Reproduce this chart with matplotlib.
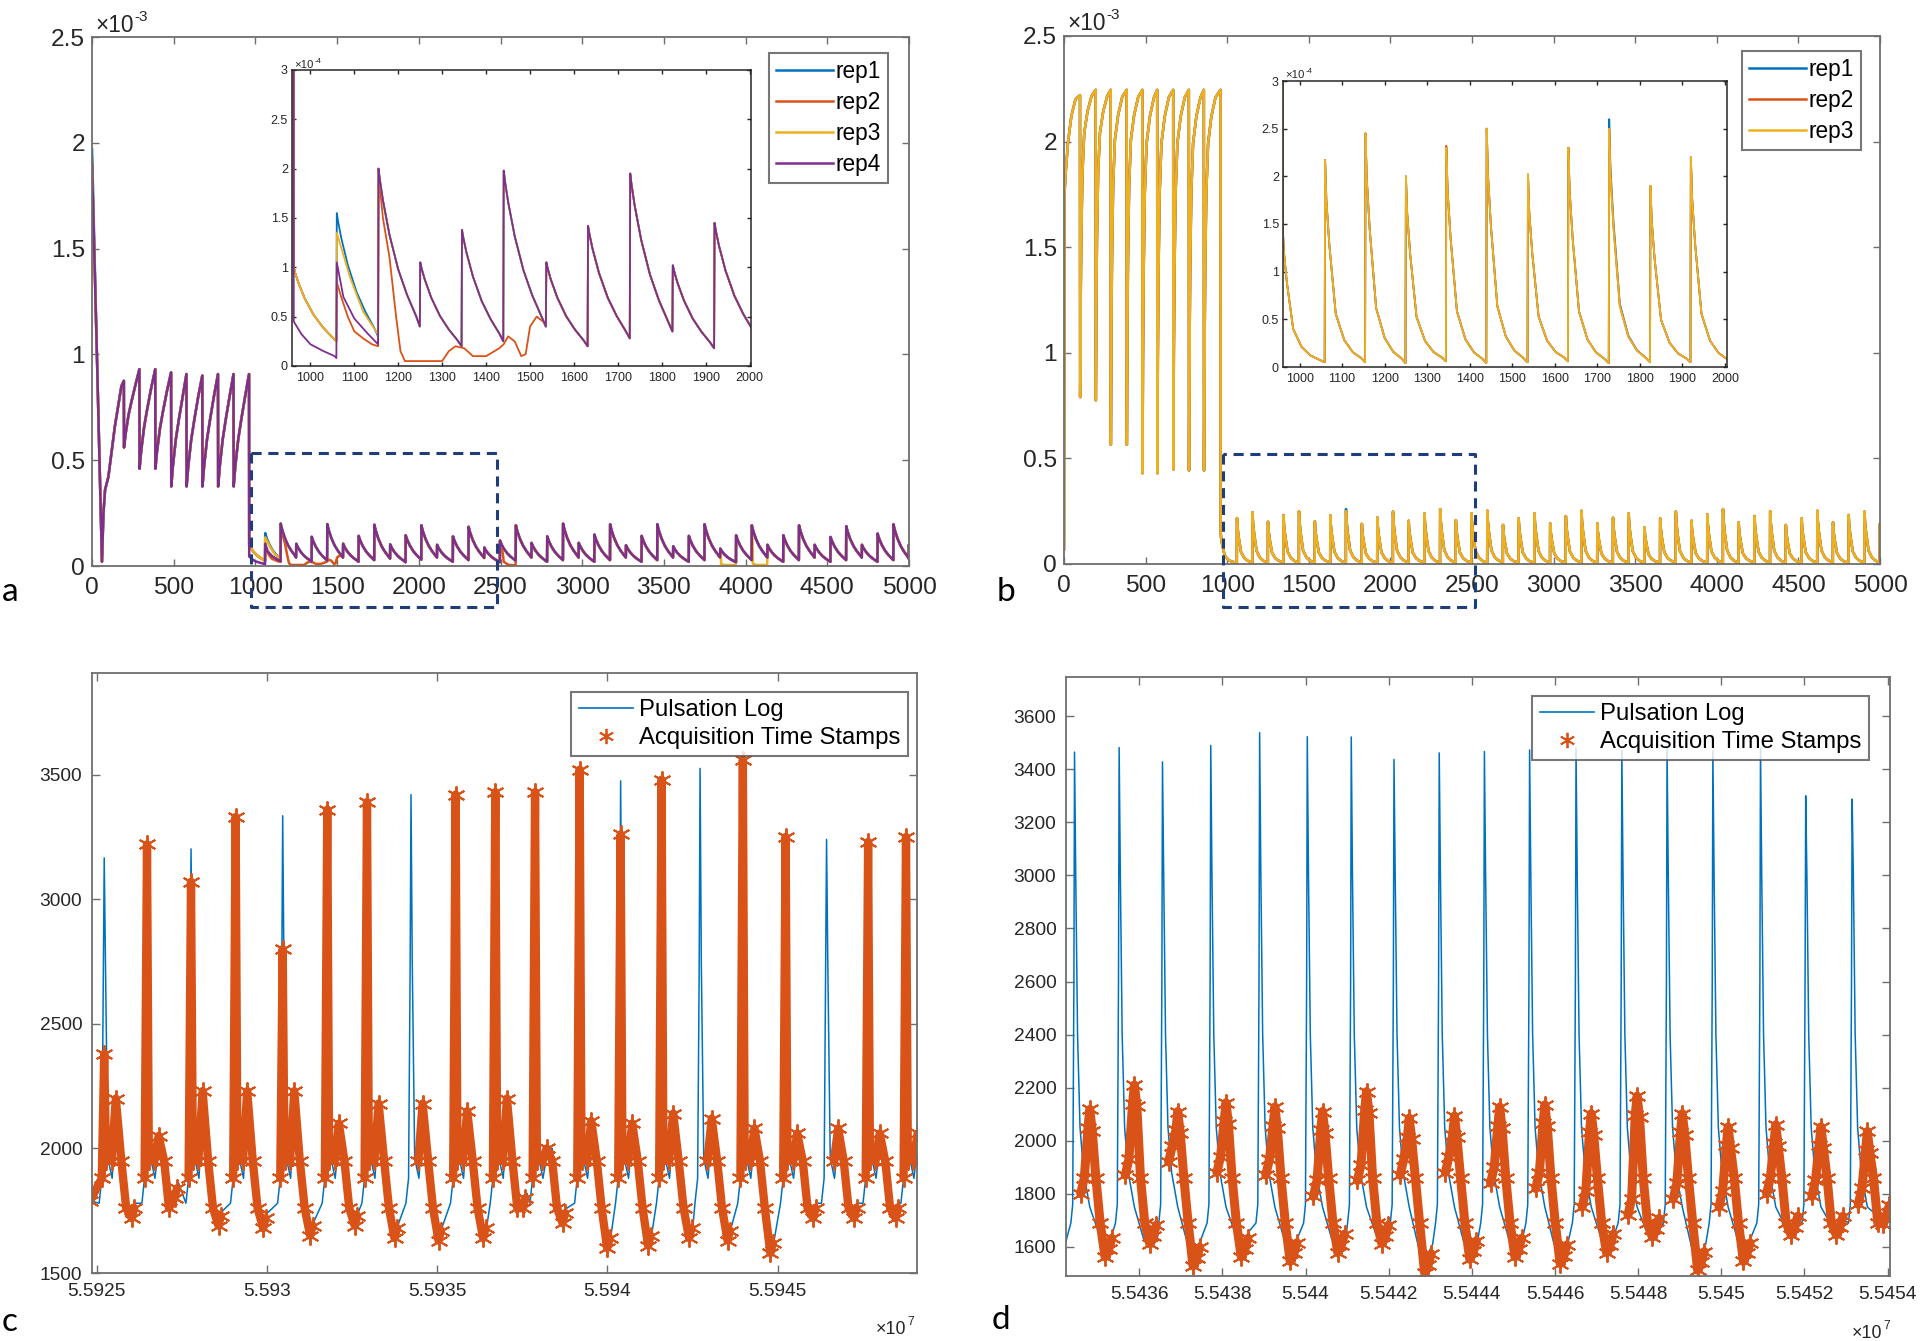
import numpy as np
import matplotlib
matplotlib.use("Agg")
import matplotlib.pyplot as plt
from matplotlib import font_manager
from matplotlib.lines import Line2D

_names = {f.name for f in font_manager.fontManager.ttflist}
NARROW = "Liberation Sans Narrow" in _names
plt.rcParams["font.family"] = ["Liberation Sans Narrow", "Liberation Sans", "DejaVu Sans"]
# Liberation Sans (regular width) needs smaller sizes to take the same room
FS = 1.0 if NARROW else 0.86

W, H = 1920, 1341
SCALE = 1e-4            # panel a / b values below are in units of 1e-4

C_BLUE, C_ORANGE, C_YELLOW, C_PURPLE = "#0072BD", "#D95319", "#EDB120", "#7E2F8E"
C_BOX = "#1F3D7A"
C_AX = "#6E6E6E"
C_TXT = "#262626"

# ── panels a / b : shared spike positions (samples) ──────────────────────────
spike_x = [1060, 1155, 1250, 1345, 1440, 1537, 1632, 1728, 1825, 1920,
           2016, 2112, 2209, 2305, 2401, 2497, 2594, 2690, 2786, 2883,
           2979, 3075, 3171, 3268, 3364, 3460, 3557, 3653, 3749, 3845,
           3942, 4038, 4134, 4231, 4327, 4423, 4520, 4616, 4712, 4808,
           4905, 4999]

# ── panel a ──────────────────────────────────────────────────────────────────
a_load_x = [0, 30, 61, 70, 80, 100, 140, 180]
a_load_y = [19.0, 10.0, 0.2, 2.5, 3.6, 4.2, 6.6, 8.5]
a_cyc_x = [195, 290, 387, 484, 578, 675, 771, 866, 961]
a_cyc_peak = [8.75, 9.3, 9.3, 9.15, 9.07, 9.0, 9.07, 9.07, 9.07]
a_cyc_drop = [5.6, 4.6, 4.6, 3.76, 3.76, 3.76, 3.76, 3.76, 1.0]
a_rise_dx = [0, 10, 28, 47, 70]
a_rise_g = [0, 0.18, 0.42, 0.6, 0.8]
a_first_trough = 0.25
a_spike_peak = [1.55, 2.0, 1.05, 1.38, 1.98, 1.05, 1.42, 1.95, 1.02, 1.45,
                1.92, 1.0, 1.4, 1.85, 0.87, 1.2, 1.92, 1.09, 1.4, 2.0,
                1.09, 1.48, 1.97, 0.98, 1.42, 1.97, 0.93, 1.42, 1.97, 0.82,
                1.45, 1.92, 1.0, 1.45, 1.92, 1.0, 1.37, 1.88, 1.0, 1.53,
                1.97, 1.0]
a_spike_trough = [0.30, 0.40, 0.20, 0.25, 0.40, 0.20, 0.28, 0.35, 0.18, 0.30,
                  0.40, 0.20, 0.28, 0.38, 0.18, 0.25, 0.40, 0.20, 0.28, 0.40,
                  0.20, 0.28, 0.40, 0.20, 0.28, 0.40, 0.20, 0.28, 0.40, 0.18,
                  0.28, 0.40, 0.20, 0.28, 0.40, 0.20, 0.28, 0.40, 0.20, 0.28,
                  0.35, 0.30]
a_decay_dx = [0, 3, 10, 25, 45, 65, 85]
a_decay_g = [1, 0.93, 0.8, 0.58, 0.36, 0.2, 0.07]

# replicate-specific stretches (a)
a_rep1_fix = [([0, 2], [19.7, 19.2])]
a_rep2_fix = [
    ([1060, 1070, 1085, 1100, 1120, 1140, 1154],
     [0.85, 0.7, 0.5, 0.35, 0.28, 0.22, 0.2]),
    ([1156, 1165, 1180, 1195, 1205, 1215, 1300, 1315, 1330, 1350, 1370, 1400,
      1430, 1440, 1450, 1465, 1480, 1490, 1500, 1515, 1530, 1536],
     [1.9, 1.5, 1.1, 0.5, 0.15, 0.05, 0.05, 0.15, 0.2, 0.18, 0.1, 0.1,
      0.18, 0.22, 0.3, 0.25, 0.1, 0.12, 0.4, 0.5, 0.45, 0.4]),
    ([2520, 2550, 2592], [0.2, 0.05, 0.03]),
]
a_rep3_fix = [
    ([1060, 1070, 1090, 1120, 1154], [1.35, 1.2, 0.9, 0.55, 0.32]),
    ([3850, 3870, 3940], [0.1, 0.05, 0.05]),
    ([4045, 4070, 4132], [0.1, 0.05, 0.05]),
]
a_rep4_fix = [
    ([962, 980, 1000, 1030, 1055, 1059, 1060, 1075, 1100, 1130, 1154],
     [0.45, 0.32, 0.22, 0.15, 0.1, 0.08, 1.05, 0.7, 0.48, 0.33, 0.22]),
]

# ── panel b ──────────────────────────────────────────────────────────────────
b_load_x = [0, 3, 10, 25, 45, 70]
b_load_y = [0.7, 17.5, 18.5, 20.0, 21.2, 22.0]
b_cyc_x = [98, 194, 286, 384, 480, 571, 669, 765, 857, 959]
b_cyc_peak = [22.2, 22.45, 22.45, 22.45, 22.45, 22.45, 22.45, 22.45, 22.45, 22.45]
b_cyc_drop = [7.9, 7.75, 5.64, 5.64, 4.3, 4.3, 4.48, 4.43, 4.43, 1.5]
b_rise_dx = [0, 3, 7, 14, 25, 45, 70]
b_rise_g = [0, 0.3, 0.52, 0.73, 0.86, 0.93, 0.98]
b_first_trough = 0.05
b_spike_peak = [2.17, 2.45, 2.0, 2.3, 2.5, 2.02, 2.3, 2.5, 1.9, 2.2,
                2.48, 2.05, 2.4, 2.6, 2.08, 2.4, 2.52, 1.85, 2.16, 2.4,
                1.92, 2.27, 2.52, 1.92, 2.19, 2.4, 1.73, 2.16, 2.48, 2.05,
                2.35, 2.6, 1.97, 2.27, 2.5, 1.85, 2.16, 2.52, 1.97, 2.32,
                2.48, 1.9]
b_spike_trough = [0.05, 0.04, 0.06, 0.04, 0.05, 0.06, 0.04, 0.05, 0.05, 0.04,
                  0.05, 0.06, 0.04, 0.05, 0.05, 0.04, 0.06, 0.05, 0.04, 0.05,
                  0.05, 0.06, 0.04, 0.05, 0.05, 0.04, 0.05, 0.06, 0.04, 0.05,
                  0.05, 0.04, 0.06, 0.05, 0.04, 0.05, 0.05, 0.06, 0.04, 0.05,
                  0.05, 0.05]
b_decay_dx = [0, 3, 10, 25, 45, 65, 85]
b_decay_g = [1, 0.8, 0.58, 0.24, 0.11, 0.05, 0.02]
b_rep1_peak_fix = {7: 2.6}
b_rep2_peak_fix = {3: 2.32}

# ── panel c : pulsation log vs. acquisition stamps ───────────────────────────
c_t = [55925215, 55926472, 55927765, 55929075, 55930458, 55931768, 55932935,
       55934228, 55935538, 55936705, 55937872, 55939183, 55940386, 55941589,
       55942720, 55943977, 55945233, 55946436, 55947657, 55948770]
c_blue_peak = [3166, 3200, 3202, 3300, 3335, 3350, 3380, 3420, 3400, 3420,
               3420, 3500, 3475, 3470, 3525, 3540, 3240, 3240, 3220, 3240]
c_bump = [2200, 2050, 2230, 2230, 2230, 2100, 2180, 2180, 2150, 2200,
          2000, 2110, 2100, 2140, 2120, 2080, 2060, 2080, 2060, 2060]
c_valley = [1720, 1800, 1690, 1680, 1650, 1690, 1640, 1630, 1640, 1760,
            1700, 1600, 1610, 1640, 1630, 1580, 1720, 1720, 1720, 1750]
c_orange_top = [2380, 3220, 3070, 3330, 2800, 3360, 3390, np.nan, 3420, 3430,
                3430, 3520, 3260, 3480, np.nan, 3560, 3250, np.nan, 3230, 3250]

# ── panel d ──────────────────────────────────────────────────────────────────
d_t = [55434442, 55435515, 55436558, 55437719, 55438895, 55440041, 55441099,
       55442127, 55443215, 55444302, 55445389, 55446506, 55447608, 55448696,
       55449798, 55450944, 55452031, 55453148, 55454096]
d_blue_peak = [3465, 3482, 3428, 3490, 3538, 3523, 3522, 3437, 3462, 3467,
               3473, 3480, 3470, 3480, 3470, 3480, 3300, 3288, 3480]
d_blue_valley = [1620, 1600, 1590, 1620, 1600, 1600, 1620, 1570, 1590, 1600,
                 1580, 1610, 1630, 1570, 1600, 1650, 1660, 1690, 1690]
d_orange_start = [1800, 1870, 1920, 1880, 1870, 1790, 1850, 1870, 1880, 1840,
                  1820, 1750, 1720, 1780, 1750, 1800, 1790, 1760]
d_orange_top = [2118, 2210, 2110, 2143, 2127, 2110, 2185, 2085, 2093, 2127,
                2135, 2102, 2168, 2102, 2052, 2060, 2052, 2035]
d_orange_bottom = [1562, 1612, 1528, 1562, 1545, 1578, 1612, 1503, 1553, 1562,
                   1537, 1578, 1637, 1512, 1545, 1645, 1645, 1687]


# ── helpers ──────────────────────────────────────────────────────────────────

def spike_series(load_x, load_y, cyc_x, cyc_peak, cyc_drop, rise_dx, rise_g,
                 first_trough, sx, speak, strough, ddx, dg):
    X, Y = list(load_x), list(load_y)
    n = len(cyc_x)
    for k in range(n):
        X.append(cyc_x[k]); Y.append(cyc_peak[k])
        if k + 1 < n:
            lo = cyc_drop[k]
            for d, g in zip(rise_dx, rise_g):
                X.append(cyc_x[k] + 1 + d); Y.append(lo + g * (cyc_peak[k + 1] - lo))
    # unloading decay down to the first spike
    x0, prev = cyc_x[-1] + 1, first_trough
    for d, g in zip(ddx, dg):
        if x0 + d < sx[0] - 1:
            X.append(x0 + d); Y.append(prev + g * (cyc_drop[-1] - prev))
    for k in range(len(sx)):
        X.append(sx[k] - 1); Y.append(prev)
        nxt = sx[k + 1] if k + 1 < len(sx) else sx[k] + 100
        for d, g in zip(ddx, dg):
            if sx[k] + d < nxt - 1:
                X.append(sx[k] + d); Y.append(strough[k] + g * (speak[k] - strough[k]))
        prev = strough[k]
    return np.array(X, float), np.array(Y, float)


def patch(X, Y, fixes):
    for fx, fy in fixes:
        keep = (X < min(fx)) | (X > max(fx))
        X = np.concatenate([X[keep], fx])
        Y = np.concatenate([Y[keep], fy])
        o = np.argsort(X, kind="stable")
        X, Y = X[o], Y[o]
    return X, Y


def px_axes(fig, l, t, r, b):
    return fig.add_axes([l / W, 1 - b / H, (r - l) / W, (b - t) / H])


def matlab_axes(ax, color, tick_len, size, pad_x, pad_y, lw=1.3):
    for s in ax.spines.values():
        s.set_color(color)
        s.set_linewidth(lw)
    ax.tick_params(axis="both", direction="in", top=True, right=True,
                   length=tick_len, width=1.0, color=color,
                   labelsize=size, labelcolor=C_TXT)
    ax.tick_params(axis="x", pad=pad_x)
    ax.tick_params(axis="y", pad=pad_y)


def exponent(fig, x, y, size, exp, dy, align="left"):
    """MATLAB style 'x10^n' label; (x, y) is the left (or right) baseline point in px."""
    r = fig.canvas.get_renderer()
    base = fig.text(x / W, 1 - y / H, "\u00d710", fontsize=size, color=C_TXT,
                    va="baseline", ha="left")
    sup = fig.text(0, 1 - (y - dy) / H, exp, fontsize=size * 0.68, color=C_TXT,
                   va="baseline", ha="left")
    bw = base.get_window_extent(r).width
    sw = sup.get_window_extent(r).width
    x0 = x - bw - sw - 1 if align == "right" else x
    base.set_x(x0 / W)
    sup.set_x((x0 + bw + 1) / W)


# ── build series ─────────────────────────────────────────────────────────────
ax_, ay_ = spike_series(a_load_x, a_load_y, a_cyc_x, a_cyc_peak, a_cyc_drop,
                        a_rise_dx, a_rise_g, a_first_trough, spike_x,
                        a_spike_peak, a_spike_trough, a_decay_dx, a_decay_g)
a_reps = {
    "rep1": (*patch(ax_, ay_, a_rep1_fix), C_BLUE),
    "rep2": (*patch(ax_, ay_, a_rep2_fix), C_ORANGE),
    "rep3": (*patch(ax_, ay_, a_rep3_fix), C_YELLOW),
    "rep4": (*patch(ax_, ay_, a_rep4_fix), C_PURPLE),
}

b_reps = {}
for name, fixes, col in [("rep1", b_rep1_peak_fix, C_BLUE),
                         ("rep2", b_rep2_peak_fix, C_ORANGE),
                         ("rep3", {}, C_YELLOW)]:
    pk = list(b_spike_peak)
    for i, v in fixes.items():
        pk[i] = v
    bx, by = spike_series(b_load_x, b_load_y, b_cyc_x, b_cyc_peak, b_cyc_drop,
                          b_rise_dx, b_rise_g, b_first_trough, spike_x,
                          pk, b_spike_trough, b_decay_dx, b_decay_g)
    b_reps[name] = (bx, by, col)

# panel c : blue is continuous, the stamps come in bursts (column + after-wave)
cbx, cby = [55924800], [1790]
cox, coy = [55924800], [1790]
for t, p, bmp, v, o in zip(c_t, c_blue_peak, c_bump, c_valley, c_orange_top):
    cbx += [t + d for d in [-150, -72, -27, 0, 36, 108, 233, 377, 503, 646, 826, 930]]
    cby += [1780, 1880, 2700, p, 2750, 1960, 1880, bmp, 2000, 1800, v, v + 60]
    if np.isnan(o):
        cox += [np.nan] + [t + d for d in [215, 341, 503, 646, 808, 880]]
        coy += [np.nan, 1950, bmp, 1950, 1760, v, v + 40]
    else:
        cox += [t + d for d in [-72, 0, 54, 215, 341, 503, 646, 808, 880]]
        coy += [1880, o, 1950, 1950, bmp, 1950, 1760, v, v + 40]
    cox.append(np.nan); coy.append(np.nan)

# panel d
dbx, dby = [55434200], [1600]
for t, p, v in zip(d_t, d_blue_peak, d_blue_valley):
    dbx += [t + d for d in [-88, -44, -15, 0, 29, 73, 132, 220, 367, 588, 808, 930]]
    dby += [1690, 1760, 2600, p, 3000, 2400, 2050, 1880, 1750, v + 30, v, v + 40]
dox, doy = [], []
for t, s, tp, bt in zip(d_t, d_orange_start, d_orange_top, d_orange_bottom):
    dox += [t + d for d in [147, 235, 323, 367, 426, 514, 617, 735, 823, 896]] + [np.nan]
    doy += [s, s + 60, tp - 70, tp, tp - 80, 1860, 1690, bt, bt + 30, bt + 70] + [np.nan]

# ── figure ───────────────────────────────────────────────────────────────────
fig = plt.figure(figsize=(W / 100, H / 100), dpi=100)
fig.patch.set_facecolor("white")

main_specs = [
    ("a", (92, 37, 909, 566), (292, 70, 751, 366), (958, 2003), a_reps,
     (973, 2479, 0.534e-3, -0.194e-3), (769, 53)),
    ("b", (1064, 36, 1880, 564), (1283, 81, 1727, 367), (961, 2005), b_reps,
     (974, 2518, 0.521e-3, -0.204e-3), (1742, 51)),
]

for tag, box, ibox, ixlim, reps, rect, leg_xy in main_specs:
    ax = px_axes(fig, *box)
    for name, (x, y, col) in reps.items():
        ax.plot(x, y * SCALE, color=col, lw=1.8, label=name)
    ax.set_xlim(0, 5000)
    ax.set_ylim(0, 2.5e-3)
    ax.set_xticks(np.arange(0, 5001, 500))
    ax.set_xticklabels([str(v) for v in range(0, 5001, 500)])
    ax.set_yticks(np.arange(0, 2.51e-3, 0.5e-3))
    ax.set_yticklabels(["0", "0.5", "1", "1.5", "2", "2.5"])
    matlab_axes(ax, C_AX, 5, 20.5 * FS, 8, 5)

    x0, x1, ytop, ybot = rect
    ax.plot([x0, x0, x1, x1, x0], [ytop, ybot, ybot, ytop, ytop], ls=(0, (3.3, 2.2)),
            color=C_BOX, lw=2.2, clip_on=False, zorder=5)

    leg = ax.legend(loc="upper left", bbox_to_anchor=(leg_xy[0] / W, 1 - leg_xy[1] / H),
                    bbox_transform=fig.transFigure, fontsize=19 * FS, frameon=True,
                    fancybox=False, edgecolor="#555555", borderaxespad=0,
                    handlelength=2.5, handletextpad=0.15, labelspacing=0.36,
                    borderpad=0.3)
    leg.get_frame().set_linewidth(1.5)

    ins = px_axes(fig, *ibox)
    for name, (x, y, col) in reps.items():
        ins.plot(x, y * SCALE, color=col, lw=1.3)
    ins.set_xlim(*ixlim)
    ins.set_ylim(0, 3e-4)
    ins.set_xticks(np.arange(1000, 2001, 100))
    ins.set_xticklabels([str(v) for v in range(1000, 2001, 100)])
    ins.set_yticks(np.arange(0, 3.01e-4, 0.5e-4))
    ins.set_yticklabels(["0", "0.5", "1", "1.5", "2", "2.5", "3"])
    matlab_axes(ins, "#262626", 3, 10.5 * FS, 4, 3, lw=1.1)
    ins.set_facecolor("white")

# exponent labels of a / b and insets
exponent(fig, 95, 32, 19 * FS, "-3", 11)
exponent(fig, 1067, 30, 19 * FS, "-3", 11)
exponent(fig, 294, 68, 9.5 * FS, "-4", 5)
exponent(fig, 1285, 78, 9.5 * FS, "-4", 5)

# ── panels c / d ─────────────────────────────────────────────────────────────
star = (6, 2, 0)
cd_specs = [
    ((92, 673, 917, 1273), cbx, cby, cox, coy, (55924856, 55949093), (1500, 3908),
     np.arange(55925000, 55945001, 5000), np.arange(1500, 3501, 500), (908, 692),
     (914, 1334), 6.0),
    ((1066, 677, 1890, 1276), dbx, dby, dox, doy, (55434237, 55454059), (1490, 3748),
     np.arange(55436000, 55454001, 2000), np.arange(1600, 3601, 200), (1869, 696),
     (1890, 1338), 6.5),
]
for box, bx, by, ox, oy, xl, yl, xt, yt, leg_xy, exp_xy, olw in cd_specs:
    ax = px_axes(fig, *box)
    ax.plot(bx, by, color=C_BLUE, lw=1.1)
    ax.plot(ox, oy, color=C_ORANGE, lw=olw, marker=star, ms=13, mew=1.4,
            solid_joinstyle="round", solid_capstyle="round")
    ax.set_xlim(*xl)
    ax.set_ylim(*yl)
    ax.set_xticks(xt)
    ax.set_xticklabels([f"{v / 1e7:.4f}".rstrip("0") for v in xt])
    ax.set_yticks(yt)
    ax.set_yticklabels([str(v) for v in yt])
    matlab_axes(ax, C_AX, 6, 16 * FS, 7, 7)
    handles = [Line2D([], [], color=C_BLUE, lw=1.2),
               Line2D([], [], ls="none", marker=star, ms=11, mew=1.3, color=C_ORANGE)]
    leg = ax.legend(handles, ["Pulsation Log", "Acquisition Time Stamps"],
                    loc="upper right", bbox_to_anchor=(leg_xy[0] / W, 1 - leg_xy[1] / H),
                    bbox_transform=fig.transFigure, fontsize=20 * FS, frameon=True,
                    fancybox=False, edgecolor="#555555", borderaxespad=0,
                    handlelength=2.3, handletextpad=0.25, labelspacing=0.25,
                    borderpad=0.3)
    leg.get_frame().set_linewidth(1.5)
    exponent(fig, exp_xy[0], exp_xy[1], 15 * FS, "7", 9, align="right")

# panel letters
for letter, (x, y) in {"a": (10, 592), "b": (1006, 592),
                       "c": (10, 1322), "d": (1001, 1320)}.items():
    fig.text(x / W, 1 - y / H, letter, fontsize=24, ha="center", va="center",
             family=["Lato", "DejaVu Sans"], color="black")

fig.savefig("out.png", dpi=100)
